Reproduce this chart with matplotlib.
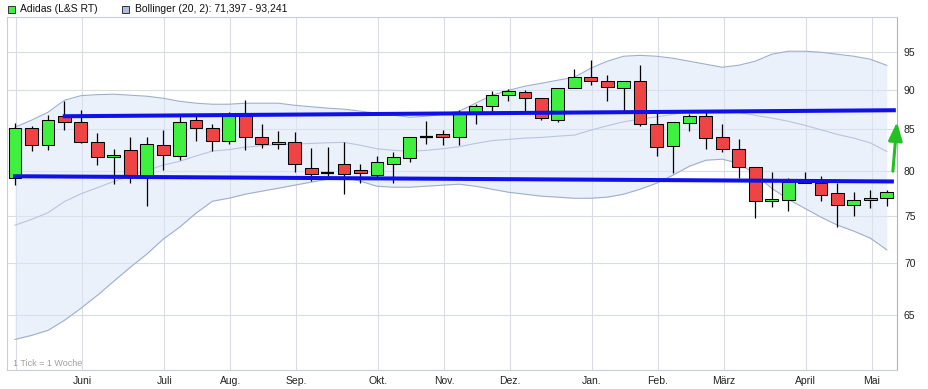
import numpy as np
import pandas as pd
import matplotlib
matplotlib.use('Agg')
import matplotlib.pyplot as plt
from matplotlib.patches import Rectangle
from matplotlib.ticker import FixedLocator, NullLocator, NullFormatter

plt.rcParams['font.family'] = ['Liberation Sans', 'DejaVu Sans']

# ---------------- data (weekly candles, 1 Tick = 1 Woche) ----------------
first_week = '2014-05-05'
opens  = [79.27, 85.2, 83.1, 86.6, 85.9, 83.4, 81.7, 82.5, 79.45, 83.1,
          81.8, 86.1, 85.1, 83.6, 86.6, 84.0, 83.2, 83.4, 80.4, 79.8,
          80.8, 80.1, 79.6, 80.8, 81.5, 84.1, 84.4, 84.0, 87.1, 87.9,
          89.3, 89.7, 89.0, 86.1, 90.2, 91.7, 91.2, 90.2, 91.2, 85.6,
          83.0, 85.75, 86.7, 84.0, 82.6, 80.5, 76.6, 76.7, 78.8, 78.6,
          77.5, 76.2, 76.7, 77.0]
highs  = [85.8, 85.4, 86.8, 88.6, 87.4, 84.6, 82.6, 84.1, 84.1, 84.9,
          86.9, 86.8, 85.6, 87.1, 88.7, 85.6, 84.75, 84.7, 82.7, 82.8,
          83.5, 80.8, 81.8, 82.2, 84.1, 86.0, 84.9, 87.4, 88.2, 89.8,
          90.1, 90.0, 89.0, 90.2, 92.7, 93.9, 92.0, 91.2, 93.3, 87.3,
          85.9, 86.9, 87.2, 85.6, 83.8, 80.5, 79.9, 79.2, 79.9, 79.4,
          78.7, 77.6, 77.9, 77.85]
lows   = [78.4, 82.4, 82.5, 84.9, 83.3, 80.7, 78.5, 78.6, 76.1, 80.1,
          81.3, 83.6, 82.4, 83.2, 82.5, 82.7, 82.6, 79.9, 78.9, 79.45,
          77.4, 78.7, 79.3, 78.7, 81.05, 83.2, 83.1, 83.1, 85.6, 87.2,
          88.6, 87.1, 86.1, 85.9, 90.2, 90.6, 88.5, 87.2, 85.4, 81.8,
          79.8, 84.8, 82.6, 82.2, 79.2, 74.75, 76.0, 75.5, 78.6, 76.6,
          73.8, 75.0, 75.9, 76.1]
closes = [85.2, 83.1, 86.1, 85.9, 83.4, 81.7, 81.9, 79.45, 83.2, 81.9,
          85.9, 85.1, 83.6, 86.6, 84.0, 83.2, 83.4, 80.8, 79.7, 79.8,
          79.7, 79.8, 81.1, 81.7, 84.1, 84.1, 84.0, 87.2, 87.9, 89.3,
          89.9, 89.0, 86.4, 90.2, 91.7, 91.2, 90.35, 91.2, 85.6, 82.9,
          85.9, 86.7, 83.9, 82.6, 80.5, 76.6, 76.9, 78.8, 78.6, 77.3,
          76.2, 76.7, 77.0, 77.6]

# Bollinger (20, 2)
bb_upper  = [85.26, 86.13, 87.12, 88.65, 89.24, 89.37, 89.43, 89.30, 89.17, 88.91,
             88.52, 88.27, 88.14, 88.14, 88.27, 88.27, 88.27, 88.01, 87.82, 87.64,
             87.51, 87.26, 87.00, 86.75, 86.50, 86.62, 86.87, 87.26, 88.27, 89.30,
             89.94, 90.47, 90.86, 91.26, 91.65, 92.85, 93.80, 94.48, 94.60, 94.48,
             94.20, 93.80, 93.39, 92.99, 93.26, 93.80, 94.75, 95.17, 95.17, 95.03,
             94.75, 94.48, 94.07, 93.241]
bb_middle = [73.99, 74.61, 75.33, 76.56, 77.42, 78.11, 78.83, 79.46, 80.06, 80.71,
             81.15, 81.78, 82.37, 82.54, 82.83, 83.00, 83.16, 83.21, 83.28, 83.36,
             83.41, 83.06, 82.64, 82.46, 82.34, 82.45, 82.64, 82.89, 83.28, 83.62,
             83.77, 83.93, 84.01, 84.16, 84.29, 84.89, 85.43, 85.93, 86.27, 86.55,
             86.87, 87.19, 87.34, 87.20, 87.10, 86.73, 86.40, 86.00, 85.50, 84.94,
             84.37, 83.92, 83.34, 82.32]
bb_lower  = [62.71, 63.08, 63.54, 64.47, 65.60, 66.84, 68.22, 69.61, 70.94, 72.50,
             73.77, 75.28, 76.60, 76.93, 77.38, 77.72, 78.05, 78.40, 78.74, 79.08,
             79.31, 78.85, 78.28, 78.17, 78.17, 78.28, 78.40, 78.51, 78.28, 77.94,
             77.60, 77.38, 77.16, 77.05, 76.93, 76.93, 77.05, 77.38, 77.94, 78.62,
             79.54, 80.58, 81.28, 81.40, 80.93, 79.65, 78.05, 76.82, 75.83, 74.85,
             73.99, 73.35, 72.61, 71.397]

month_names = {1: 'Jan.', 2: 'Feb.', 3: 'März', 4: 'April', 5: 'Mai', 6: 'Juni',
               7: 'Juli', 8: 'Aug.', 9: 'Sep.', 10: 'Okt.', 11: 'Nov.', 12: 'Dez.'}
y_ticks = [65, 70, 75, 80, 85, 90, 95]

# drawn trend lines and arrow (week index, price)
trend_top_x = [2.9, 53.55]
trend_top_y = [86.62, 87.38]
trend_bot_x = [-0.12, 53.43]
trend_bot_y = [79.42, 78.82]
arrow_start = (53.37, 80.0)
arrow_end = (53.62, 85.9)

legend_stock = 'Adidas (L&S RT)'
legend_bb = 'Bollinger (20, 2): 71,397 - 93,241'
footnote = '1 Tick = 1 Woche'

# ---------------- figure ----------------
W, H = 929, 389
fig = plt.figure(figsize=(W / 100, H / 100), dpi=100)
fig.patch.set_facecolor('white')
ax = fig.add_axes([7 / W, 1 - 370 / H, 890 / W, 353 / H])

n = len(opens)
x = np.arange(n)
dates = pd.date_range(first_week, periods=n, freq='7D')
month_starts = [i for i in range(n) if i == 0 or dates[i].month != dates[i - 1].month]
month_labels = ['' if i == 0 else month_names[dates[i].month] for i in month_starts]

ax.set_yscale('log')
ax.set_ylim(60, 100)
ax.set_xlim(-0.49, 53.62)

# grid
for yv in y_ticks:
    ax.axhline(yv, color='#d9dce3', lw=0.8, zorder=0)
for xv in month_starts:
    ax.axvline(xv + 0.08, color='#d9dce3', lw=0.8, zorder=0)

# bollinger band
ax.fill_between(x, bb_lower, bb_upper, color='#dae6f8', alpha=0.55, lw=0, zorder=1)
ax.plot(x, bb_upper, color='#a0aecb', lw=0.8, zorder=2)
ax.plot(x, bb_lower, color='#a0aecb', lw=0.8, zorder=2)
ax.plot(x, bb_middle, color='#b9c5de', lw=0.8, zorder=2)

# candles
bw = 0.78
for i in range(n):
    o, h, l, c = opens[i], highs[i], lows[i], closes[i]
    ax.vlines(x[i], l, h, color='black', lw=0.9, zorder=3)
    if o == c:
        ax.hlines(o, x[i] - bw / 2, x[i] + bw / 2, color='black', lw=1.6, zorder=4)
    else:
        col = '#3ff03f' if c > o else '#f04444'
        ax.add_patch(Rectangle((x[i] - bw / 2, min(o, c)), bw, abs(c - o),
                               facecolor=col, edgecolor='black', lw=0.75, zorder=4))

# trend lines
ax.plot(trend_top_x, trend_top_y, color='#1010e8', lw=2.9, zorder=5, solid_capstyle='butt')
ax.plot(trend_bot_x, trend_bot_y, color='#1010e8', lw=2.9, zorder=5, solid_capstyle='butt')

# arrow
ax.annotate('', xy=arrow_end, xytext=arrow_start,
            arrowprops=dict(arrowstyle='-|>,head_length=1.1,head_width=0.42',
                            color='#22c022', lw=2.2, shrinkA=0, shrinkB=0),
            zorder=6, annotation_clip=False)

# axes styling
ax.yaxis.tick_right()
ax.yaxis.set_major_locator(FixedLocator(y_ticks))
ax.yaxis.set_minor_locator(NullLocator())
ax.yaxis.set_minor_formatter(NullFormatter())
ax.set_yticklabels([str(v) for v in y_ticks])
ax.set_xticks([m + 0.08 for m in month_starts])
ax.set_xticklabels(month_labels)
ax.tick_params(axis='both', length=0, labelsize=7.5, colors='#222222')
ax.tick_params(axis='y', pad=5)
ax.tick_params(axis='x', pad=4)
for s in ax.spines.values():
    s.set_color('#c9cdd6')
    s.set_linewidth(0.8)
ax.spines['right'].set_color('#b0b4bc')

ax.text(6 / 890, 2 / 353, footnote, transform=ax.transAxes, fontsize=6.5,
        color='#a0a0a0', ha='left', va='bottom')

# legend
fig.patches.append(Rectangle((8 / W, 1 - 12.5 / H), 7 / W, 7 / H, transform=fig.transFigure,
                             facecolor='#3ff03f', edgecolor='#333333', lw=0.7))
fig.text(20 / W, 1 - 9 / H, legend_stock, fontsize=7.5, va='center', ha='left', color='#111111')
fig.patches.append(Rectangle((122 / W, 1 - 12.5 / H), 7 / W, 7 / H, transform=fig.transFigure,
                             facecolor='#b0bcdc', edgecolor='#333333', lw=0.7))
fig.text(135 / W, 1 - 9 / H, legend_bb, fontsize=7.5, va='center', ha='left', color='#111111')

fig.savefig('out.png', dpi=100)
